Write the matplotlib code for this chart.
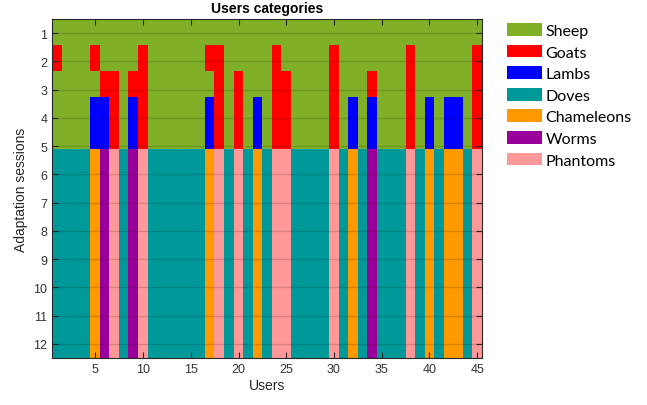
import numpy as np
import matplotlib
matplotlib.use('Agg')
import matplotlib.pyplot as plt
from matplotlib.colors import ListedColormap
from matplotlib.patches import Patch

# categories and their colours
categories = ['Sheep', 'Goats', 'Lambs', 'Doves', 'Chameleons', 'Worms', 'Phantoms']
codes = ['S', 'G', 'L', 'D', 'C', 'W', 'P']
colors = ['#80b028', '#ff0000', '#0000ff', '#009999', '#ff9900', '#990099', '#ff9999']

# one string per image row, one letter per user (45 users)
row1 = 'SSSSSSSSSS' 'SSSSSSSSSS' 'SSSSSSSSSS' 'SSSSSSSSSS' 'SSSSS'
row2 = 'GSSSGSSSSG' 'SSSSSSGGSS' 'SSSGSSSSSG' 'SSSSSSSGSS' 'SSSSG'
row3 = 'SSSSSGGSGG' 'SSSSSSSGSG' 'SSSGGSSSSG' 'SSSGSSSGSS' 'SSSSG'
row45 = 'SSSSLLGSLG' 'SSSSSSLGSG' 'SLSGGSSSSG' 'SLSLSSSGSL' 'SLLSG'
bottom = 'DDDDCWPDWP' 'DDDDDDCPDP' 'DCDPPDDDDP' 'DCDWDDDPDC' 'DCCDP'
rows = [row1, row2, row3, row45, row45] + [bottom] * 8

n_users = 45
n_sessions = 12
xticks = [5, 10, 15, 20, 25, 30, 35, 40, 45]
yticks = list(range(1, n_sessions + 1))

grid = np.array([[codes.index(c) for c in r] for r in rows])

plt.rcParams['font.family'] = ['Liberation Sans', 'DejaVu Sans']
fig = plt.figure(figsize=(6.47, 4.06), dpi=100)
ax = fig.add_axes([52.3 / 647, 1 - 359 / 406, (482 - 52.3) / 647, 339 / 406])

cmap = ListedColormap(colors)
ax.imshow(grid, cmap=cmap, vmin=-0.5, vmax=len(colors) - 0.5, aspect='auto',
          interpolation='nearest',
          extent=(0.5, n_users + 0.5, n_sessions + 0.5, 0.5))

ax.set_xlim(0.5, n_users + 0.5)
ax.set_ylim(n_sessions + 0.5, 0.5)
ax.set_xticks(xticks)
ax.set_yticks(yticks)
ax.tick_params(direction='in', top=True, right=True, length=4, width=0.8,
               labelsize=9, colors='#262626', labelcolor='#333333')
ax.set_axisbelow(False)
ax.yaxis.grid(True, color='black', alpha=0.15, linewidth=1)
for s in ax.spines.values():
    s.set_color('#262626')
    s.set_linewidth(0.8)

ax.set_title('Users categories', fontsize=10, fontweight='bold', pad=5)
ax.set_xlabel('Users', fontsize=10, color='#262626', labelpad=2)
ax.set_ylabel('Adaptation sessions', fontsize=10, color='#262626', labelpad=4)

handles = [Patch(facecolor=c, edgecolor='none') for c in colors]
fig.legend(handles, categories, loc='upper left',
           bbox_to_anchor=(507 / 647, 1 - 24 / 406), frameon=False,
           prop={'family': 'Lato', 'size': 11.5}, borderpad=0, borderaxespad=0,
           handlelength=2.2, handleheight=0.85, handletextpad=0.2,
           labelspacing=0.42)

fig.savefig('out.png', dpi=100)
